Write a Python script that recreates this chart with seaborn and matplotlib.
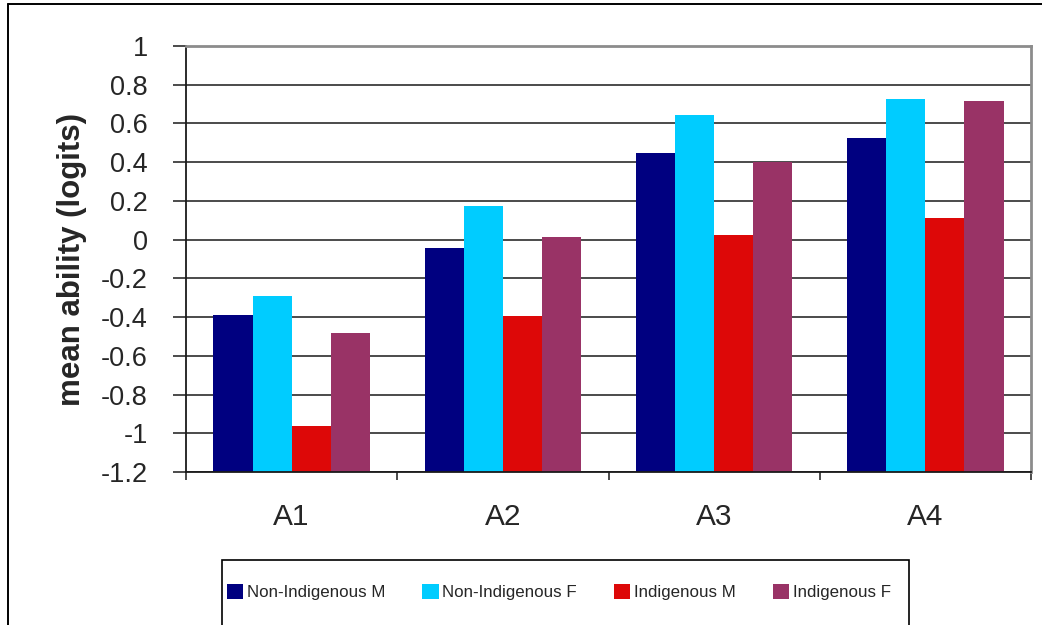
import matplotlib
matplotlib.use("Agg")
import matplotlib.pyplot as plt
from matplotlib.patches import Patch, Rectangle
from matplotlib.lines import Line2D
import seaborn as sns
import pandas as pd

# Mean ability (logits) per assessment level and group
levels = ["A1", "A2", "A3", "A4"]
groups = ["Non-Indigenous M", "Non-Indigenous F", "Indigenous M", "Indigenous F"]
non_indigenous_m = [-0.39, -0.045, 0.45, 0.525]
non_indigenous_f = [-0.29, 0.175, 0.645, 0.725]
indigenous_m = [-0.965, -0.395, 0.025, 0.11]
indigenous_f = [-0.48, 0.015, 0.40, 0.715]
y_ticks = [1, 0.8, 0.6, 0.4, 0.2, 0, -0.2, -0.4, -0.6, -0.8, -1, -1.2]
y_tick_labels = ["1", "0.8", "0.6", "0.4", "0.2", "0", "-0.2", "-0.4", "-0.6", "-0.8", "-1", "-1.2"]
colors = ["#000080", "#00CCFF", "#DD0808", "#993366"]
y_floor = -1.2  # category axis crosses the value axis here

series = [non_indigenous_m, non_indigenous_f, indigenous_m, indigenous_f]
df = pd.DataFrame({
    "level": [lv for s in series for lv in levels],
    "group": [g for g, s in zip(groups, series) for _ in s],
    "value": [v for s in series for v in s],
})

sns.set_theme(style="white")
plt.rcParams["font.family"] = ["Liberation Sans", "DejaVu Sans"]
plt.rcParams["axes.unicode_minus"] = False

W, H = 1042, 625
fig = plt.figure(figsize=(W / 100, H / 100), dpi=100)
ax = fig.add_axes([186 / W, 1 - 472 / H, (1031 - 186) / W, (472 - 46) / H])

sns.barplot(data=df, x="level", y="value", hue="group", order=levels,
            hue_order=groups, palette=colors, width=0.74, linewidth=0,
            saturation=1, legend=False, ax=ax)

# bars grow from the axis floor rather than from zero
for bar in ax.patches:
    top = bar.get_y() + bar.get_height()
    bar.set_y(y_floor)
    bar.set_height(top - y_floor)

ax.set_ylim(y_floor, 1.0)
ax.set_xlim(-0.5, len(levels) - 0.5)
ax.set_yticks(y_ticks)
ax.set_yticklabels(y_tick_labels, fontsize=19.5)
ax.yaxis.grid(True, color="#1a1a1a", linewidth=1.1)
ax.set_axisbelow(True)
ax.tick_params(axis="y", direction="out", length=9.4, width=1.1, color="#1a1a1a",
               pad=18, left=True)

# category labels at centres, tick marks at category boundaries
ax.set_xticks([i for i in range(len(levels))])
ax.set_xticklabels(levels, fontsize=21.5)
ax.tick_params(axis="x", which="major", length=0, pad=22)
ax.set_xticks([i - 0.5 for i in range(len(levels) + 1)], minor=True)
ax.tick_params(axis="x", which="minor", direction="out", length=5.8, width=1.1,
               color="#1a1a1a", bottom=True)

ax.set_xlabel("")
ax.set_ylabel("mean ability (logits)", fontsize=22.5, fontweight="bold", labelpad=10)

for side in ["left", "bottom"]:
    ax.spines[side].set_color("#1a1a1a")
    ax.spines[side].set_linewidth(1.3)
for side in ["top", "right"]:
    ax.spines[side].set_color("#8c8c8c")
    ax.spines[side].set_linewidth(2.0)

# legend with a square frame running past the bottom edge
fig.patches.append(Rectangle((222 / W, -0.05), (909 - 222) / W, 0.05 + (625 - 560) / H,
                             transform=fig.transFigure, fill=False,
                             edgecolor="black", linewidth=1.2))
handles = [Patch(facecolor=c, edgecolor="none") for c in colors]
fig.legend(handles, groups, loc="center left", bbox_to_anchor=(227 / W, 1 - 592 / H),
           ncol=4, frameon=False, fontsize=12.2, handlelength=0.95, handleheight=0.95,
           handletextpad=0.22, columnspacing=2.2, borderaxespad=0, borderpad=0)

# outer chart border
fig.add_artist(Line2D([8 / W, 8 / W], [-0.01, 1 - 4 / H], transform=fig.transFigure,
                      color="black", linewidth=1.4))
fig.add_artist(Line2D([8 / W, 1.01], [1 - 4 / H, 1 - 4 / H], transform=fig.transFigure,
                      color="black", linewidth=1.4))

fig.savefig("out.png", dpi=100)
